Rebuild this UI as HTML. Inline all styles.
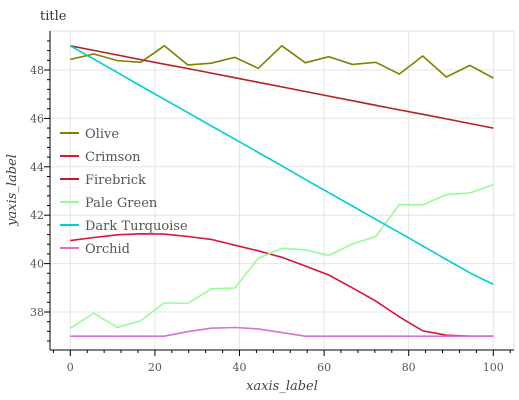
<!DOCTYPE html>
<html><head><meta charset="utf-8"><style>
body{margin:0;background:#fff;}
svg{display:block;font-family:"DejaVu Serif","Liberation Serif",serif;}
</style></head><body>
<svg width="519" height="400" viewBox="0 0 519 400">
<text x="40" y="20" font-size="13" fill="#333">title</text>
<g id="grid"></g>
<g id="series"></g>
<g id="axes"></g>
<g id="legend"></g>
<text x="282" y="390" font-size="13" font-style="italic" fill="#444" text-anchor="middle">xaxis_label</text>
<text transform="translate(16,190) rotate(-90)" font-size="13" font-style="italic" fill="#444" text-anchor="middle">yaxis_label</text>
</svg>
<script>
const xTicks=[0,20,40,60,80,100];
const yTicks=[38,40,42,44,46,48];
const names=["Olive","Crimson","Firebrick","Pale Green","Dark Turquoise","Orchid"];
const colors=["#808000","#dc143c","#b22222","#98fb98","#00ced1","#da70d6"];
const olive=[48.44,48.66,48.39,48.32,49.0,48.21,48.28,48.52,48.07,49.0,48.3,48.55,48.23,48.32,47.83,48.58,47.71,48.19,47.67];
const crimson=[40.95,41.08,41.19,41.23,41.22,41.12,41.0,40.76,40.53,40.26,39.9,39.53,39.0,38.45,37.8,37.22,37.04,37.0,37.0];
const firebrick=[49.0,48.81,48.62,48.43,48.24,48.06,47.87,47.68,47.49,47.3,47.11,46.92,46.73,46.54,46.35,46.17,45.98,45.79,45.6];
const paleGreen=[37.33,37.95,37.36,37.64,38.38,38.35,38.96,38.99,40.22,40.63,40.57,40.34,40.81,41.12,42.44,42.43,42.85,42.92,43.26];
const darkTurquoise=[49.0,48.45,47.9,47.34,46.79,46.24,45.69,45.14,44.59,44.04,43.48,42.93,42.38,41.83,41.28,40.73,40.17,39.62,39.14];
const orchid=[37.0,37.0,37.0,37.0,37.0,37.19,37.33,37.36,37.3,37.15,37.0,37.0,37.0,37.0,37.0,37.0,37.0,37.0,37.0];
const seriesData=[olive,crimson,firebrick,paleGreen,darkTurquoise,orchid];
const NS="http://www.w3.org/2000/svg";
const L=50,R=514,T=31,B=350;
const sx=v=>70.3+(v/100)*423;
const sy=v=>70+(48-v)*24.2;
function mk(tag,attrs,parent){const e=document.createElementNS(NS,tag);for(const k in attrs)e.setAttribute(k,attrs[k]);parent.appendChild(e);return e;}
const grid=document.getElementById('grid'),axes=document.getElementById('axes'),ser=document.getElementById('series'),leg=document.getElementById('legend');
mk('rect',{x:L,y:T,width:R-L,height:B-T,fill:'none',stroke:'#e0e0e0'},grid);
xTicks.forEach(t=>{const l=mk('line',{x1:sx(t),x2:sx(t),y1:T,y2:B,stroke:'#e4e4e4'},grid);

const tx=mk('text',{x:sx(t),y:371,'font-size':11,fill:'#555','text-anchor':'middle'},axes);tx.textContent=t;
});
yTicks.forEach(t=>{const l=mk('line',{x1:L,x2:R,y1:sy(t),y2:sy(t),stroke:'#e4e4e4'},grid);

const tx=mk('text',{x:44,y:sy(t)+4,'font-size':11,fill:'#555','text-anchor':'end'},axes);tx.textContent=t;
});
mk('line',{x1:L,x2:L,y1:T,y2:B,stroke:'#000'},axes);
mk('line',{x1:L,x2:R,y1:B,y2:B,stroke:'#000'},axes);
for(let v=-4;v<=104;v+=4){const big=v%20===0;mk('line',{x1:sx(v),x2:sx(v),y1:B,y2:B+(big?6:3),stroke:'#000'},axes);}
for(let v=36.8;v<=49.3;v+=0.4){const big=Math.abs(v-Math.round(v))<0.01&&Math.round(v)%2===0;const y=sy(v);if(y<T||y>B)continue;mk('line',{x1:L-(big?6:3),x2:L,y1:y,y2:y,stroke:'#000'},axes);}
seriesData.forEach((d,i)=>{const pts=d.map((v,j)=>sx(j*100/18).toFixed(1)+','+sy(v).toFixed(1)).join(' ');
const p=mk('polyline',{points:pts,fill:'none',stroke:colors[i],'stroke-width':1.6},ser);

});
names.forEach((n,i)=>{const y=133+i*23;
const g=mk('g',{},leg);


mk('line',{x1:60,x2:79,y1:y,y2:y,stroke:colors[i],'stroke-width':2},g);
const t=mk('text',{x:85,y:y+5,'font-size':13,fill:'#555'},g);t.textContent=n;});
</script>
</body></html>
